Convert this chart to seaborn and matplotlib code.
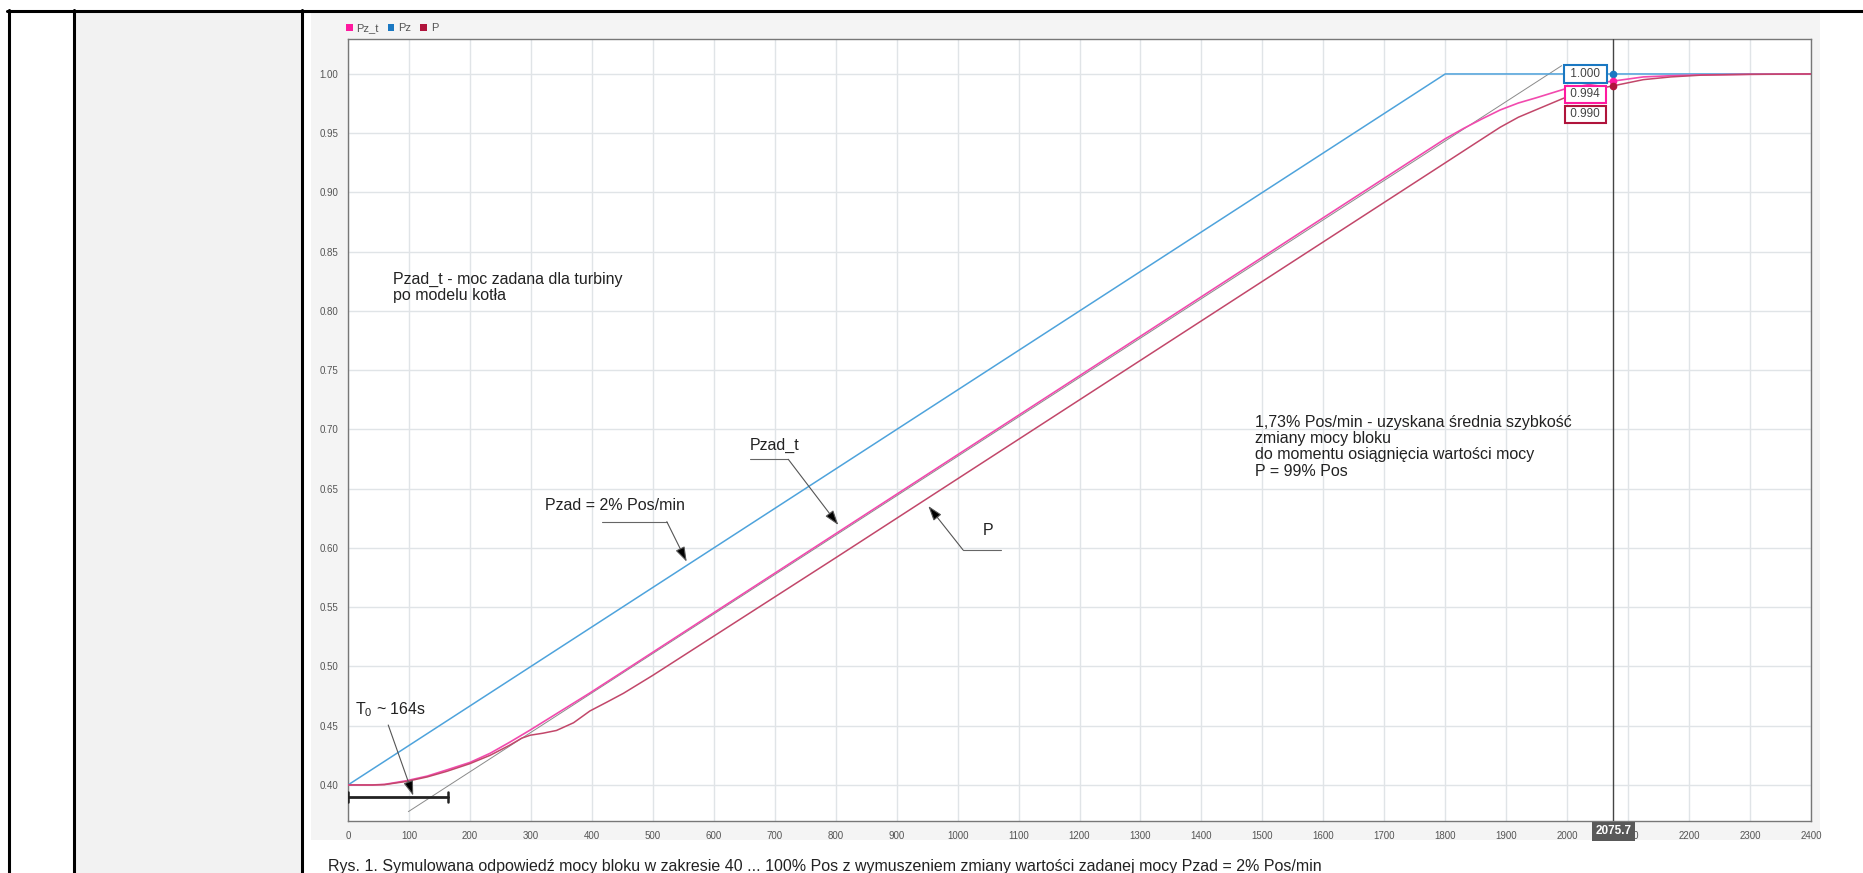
import numpy as np
import pandas as pd
import matplotlib
matplotlib.use("Agg")
import matplotlib.pyplot as plt
import matplotlib.transforms as mtransforms
from matplotlib.patches import Rectangle, Patch
from matplotlib.lines import Line2D
import seaborn as sns

# ---------------- data ----------------
t_pz = [0, 1800, 2400]
pz = [0.40, 1.00, 1.00]

t_pzt = [0, 40, 60, 96, 130, 162, 200, 233, 265, 299, 340, 397, 450, 500, 800, 1200,
         1600, 1800, 1830, 1860, 1890, 1920, 1950, 1994, 2040, 2075.7, 2125, 2170,
         2220, 2300, 2400]
pzt = [0.400, 0.400, 0.4005, 0.4036, 0.4075, 0.4127, 0.419, 0.4267, 0.436, 0.4464,
       0.4595, 0.4777, 0.4953, 0.512, 0.612, 0.7453, 0.8787, 0.9453, 0.954, 0.962,
       0.9696, 0.9755, 0.980, 0.987, 0.9915, 0.994, 0.9975, 0.9985, 0.9992, 0.9997, 1.0]

t_p = [0, 40, 60, 96, 130, 162, 200, 233, 265, 285, 299, 320, 342, 370, 397, 425,
       452, 500, 800, 1200, 1600, 1800, 1850, 1890, 1920, 1950, 1994, 2040, 2075.7,
       2125, 2170, 2220, 2300, 2400]
p = [0.400, 0.400, 0.4003, 0.4030, 0.4068, 0.4115, 0.418, 0.425, 0.4335, 0.4395,
     0.4420, 0.4437, 0.4460, 0.4525, 0.4625, 0.4700, 0.4774, 0.4925, 0.5917, 0.725,
     0.8583, 0.925, 0.9417, 0.955, 0.9635, 0.970, 0.9795, 0.9865, 0.990, 0.9952,
     0.9975, 0.999, 0.9997, 1.0]

series_names = ["Pz_t", "Pz", "P"]
cursor_t = 2075.7
cursor_vals = [1.000, 0.994, 0.990]
cursor_labels = ["1.000", "0.994", "0.990"]

tangent_t = [99, 1991]
tangent_v = [0.3775, 1.007]

t0_bar_t = [0, 164]
t0_bar_v = 0.390

x_ticks = list(range(0, 2401, 100))
y_ticks = [0.40, 0.45, 0.50, 0.55, 0.60, 0.65, 0.70, 0.75, 0.80, 0.85, 0.90, 0.95, 1.00]

caption = ("Rys. 1. Symulowana odpowiedź mocy bloku w zakresie 40 ... 100% Pos z wymuszeniem "
           "zmiany wartości zadanej mocy Pzad = 2% Pos/min")

# ---------------- style ----------------
sns.set_style("white")
plt.rcParams["font.family"] = ["Liberation Sans", "DejaVu Sans"]
plt.rcParams["mathtext.fontset"] = "custom"
plt.rcParams["mathtext.rm"] = "Liberation Sans"

W, H = 1863, 873
fig = plt.figure(figsize=(W / 100, H / 100), dpi=100)
fig.patch.set_facecolor("white")

# table-like frame of the page
fig.add_artist(Rectangle((75 / W, 0), (301 - 75) / W, 1 - 11.5 / H,
                         transform=fig.transFigure, fc="#f2f2f2", ec="none", zorder=0))
fig.add_artist(Rectangle((311 / W, 1 - 840 / H), (1820 - 311) / W, (840 - 12) / H,
                         transform=fig.transFigure, fc="#f4f4f4", ec="none", zorder=0))
for xp in [9, 73.5, 302]:
    fig.add_artist(Line2D([xp / W, xp / W], [0, 1 - 9.5 / H], transform=fig.transFigure,
                          color="black", lw=2.2, zorder=1))
fig.add_artist(Line2D([7.5 / W, 1], [1 - 11 / H, 1 - 11 / H], transform=fig.transFigure,
                      color="black", lw=2.2, zorder=1))

ax = fig.add_axes([348 / W, 1 - 821 / H, (1811 - 348) / W, (821 - 39) / H])
ax.set_facecolor("white")

c_pz, c_pzt, c_p = "#4ea3dc", "#f24aae", "#c2476a"
leg_cols = ["#ff1aa0", "#1a78c2", "#b0143c"]

sns.lineplot(x=t_pz, y=pz, ax=ax, color=c_pz, lw=1.1, legend=False, zorder=3)
sns.lineplot(x=t_pzt, y=pzt, ax=ax, color=c_pzt, lw=1.2, legend=False, zorder=4)
sns.lineplot(x=t_p, y=p, ax=ax, color=c_p, lw=1.1, legend=False, zorder=5)

ax.set_xlim(0, 2400)
ax.set_ylim(0.3696, 1.0295)
ax.set_xticks(x_ticks)
ax.set_xticklabels([str(v) for v in x_ticks])
ax.set_yticks(y_ticks)
ax.set_yticklabels([f"{v:.2f}" for v in y_ticks])
ax.grid(True, color="#e0e4e7", lw=1.0, zorder=0)
ax.set_axisbelow(True)
ax.tick_params(direction="out", length=4, width=1, color="#444", labelsize=7,
               labelcolor="#555", pad=3)
for s in ax.spines.values():
    s.set_color("#777")
    s.set_linewidth(1.0)
    s.set_visible(True)
ax.set_xlabel("")
ax.set_ylabel("")

# tangent line
ax.plot(tangent_t, tangent_v, color="#8a8a8a", lw=0.7, zorder=2)

# T0 bar
ax.plot(t0_bar_t, [t0_bar_v, t0_bar_v], color="#222", lw=2.0, zorder=6)
for tb in t0_bar_t:
    ax.plot([tb, tb], [t0_bar_v - 0.0042, t0_bar_v + 0.0042], color="#222", lw=1.8, zorder=6)

arrow_kw = dict(arrowstyle="-|>,head_length=0.9,head_width=0.3", fc="black", ec="#555",
                lw=0.8, shrinkA=0, shrinkB=0)
txt_kw = dict(fontsize=11.5, color="#222", ha="left", va="top", zorder=7)

# T0 annotation
ax.text(12, 0.4717, r"T$_{\mathregular{0}}$ ~ 164s", **txt_kw)
ax.annotate("", xy=(107, 0.391), xytext=(66, 0.4506), arrowprops=arrow_kw, zorder=7)

# Pzad annotation
ax.text(323, 0.6422, "Pzad = 2% Pos/min", **txt_kw)
ax.plot([416, 523], [0.6222, 0.6222], color="#666", lw=0.8, zorder=6)
ax.annotate("", xy=(555.6, 0.5884), xytext=(523, 0.6222), arrowprops=arrow_kw, zorder=7)

# Pzad_t annotation
ax.text(659, 0.6928, "Pzad_t", **txt_kw)
ax.plot([659.4, 722.3], [0.6748, 0.6748], color="#666", lw=0.8, zorder=6)
ax.annotate("", xy=(804.3, 0.6194), xytext=(722.3, 0.6748), arrowprops=arrow_kw, zorder=7)

# P annotation
ax.text(1042, 0.6211, "P", **txt_kw)
ax.plot([1009, 1072], [0.5983, 0.5983], color="#666", lw=0.8, zorder=6)
ax.annotate("", xy=(952, 0.6354), xytext=(1009, 0.5983), arrowprops=arrow_kw, zorder=7)

# descriptive texts
ax.text(74.4, 0.8332, "Pzad_t - moc zadana dla turbiny\npo modelu kotła", linespacing=1.1,
        **txt_kw)
ax.text(1488, 0.7122, "1,73% Pos/min - uzyskana średnia szybkość\nzmiany mocy bloku\n"
        "do momentu osiągnięcia wartości mocy\nP = 99% Pos", linespacing=1.1, **txt_kw)

# cursor
ax.axvline(cursor_t, color="#444", lw=1.0, zorder=8)
for v, c in zip(cursor_vals, [leg_cols[1], leg_cols[0], leg_cols[2]]):
    ax.plot([cursor_t], [v], marker="o", ms=4.5, color=c, zorder=9, clip_on=False)
box_y = [1.000, 0.9827, 0.9658]
for lab, yv, c in zip(cursor_labels, box_y, [leg_cols[1], leg_cols[0], leg_cols[2]]):
    ax.text(2030, yv, " " + lab + " ", fontsize=8.5, color="#444", ha="center", va="center",
            zorder=10, bbox=dict(boxstyle="square,pad=0.25", fc="white", ec=c, lw=1.5))

trans = mtransforms.blended_transform_factory(ax.transData, ax.transAxes)
ax.text(cursor_t, -0.0134, "2075.7", transform=trans, fontsize=8.5, fontweight="bold",
        color="white", ha="center", va="center", zorder=11, clip_on=False,
        bbox=dict(boxstyle="square,pad=0.3", fc="#595959", ec="none"))

# legend
handles = [Patch(fc=c, ec="none") for c in leg_cols]
fig.legend(handles, series_names, loc="lower left",
           bbox_to_anchor=(346 / W, 1 - 33 / H), bbox_transform=fig.transFigure,
           ncol=3, fontsize=8, frameon=False, handlelength=0.6, handleheight=0.6,
           handletextpad=0.35, columnspacing=0.8, borderpad=0, borderaxespad=0,
           labelcolor="#555")

# caption
fig.text(328 / W, 1 - 866 / H, caption, fontsize=11.5, color="#222", ha="left", va="center")

fig.savefig("out.png", dpi=100)
